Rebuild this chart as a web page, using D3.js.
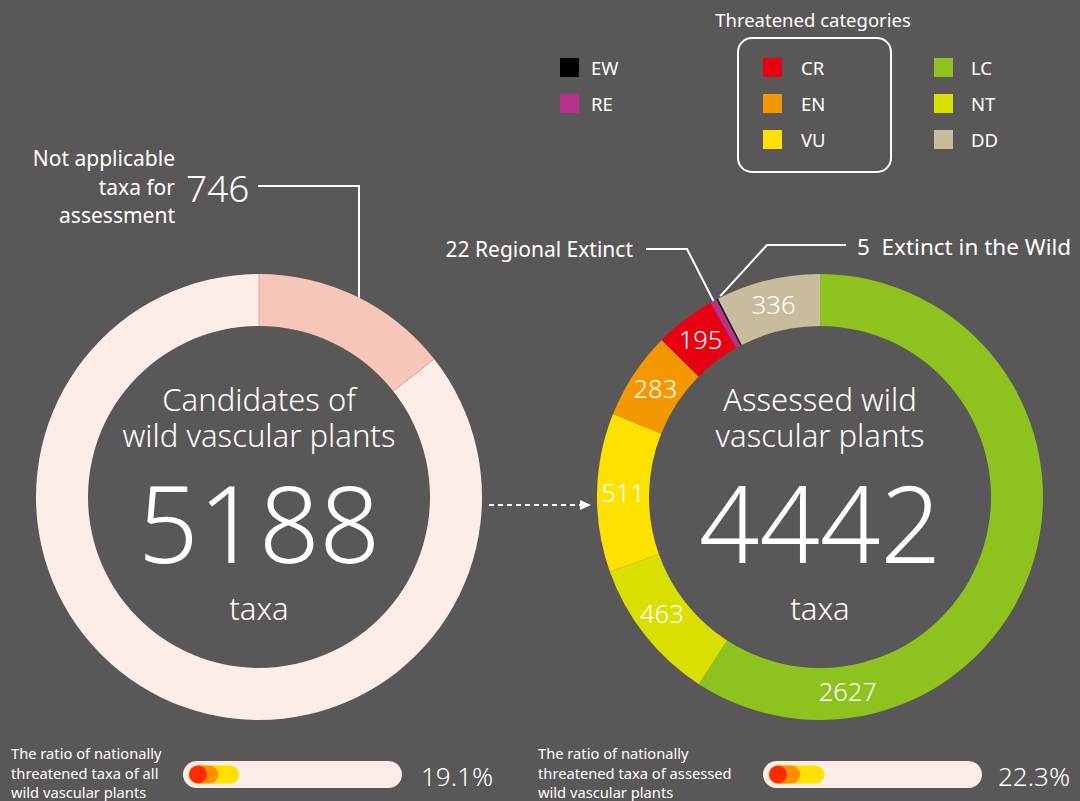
<!DOCTYPE html>
<html>
<head>
<meta charset="utf-8">
<script src="https://cdn.jsdelivr.net/npm/d3@7"></script>
<style>
  html, body { margin: 0; padding: 0; background: #595757; }
  svg text { font-family: "Noto Sans", "Open Sans", sans-serif; fill: #fff; }
</style>
</head>
<body>
<div id="chart"></div>
<script>
// ---- data ----
const candidateNames = ["Not applicable", "Assessed"];
const candidateValues = [746, 4442];
const candidateColors = ["#f8c6b9", "#fcede9"];

const assessedCodes = ["LC", "NT", "VU", "EN", "CR", "RE", "EW", "DD"];
const assessedValues = [2627, 463, 511, 283, 195, 22, 5, 336];
const assessedColors = ["#8dc21f", "#d9df00", "#ffe100", "#f39800", "#e60012", "#b5318a", "#000000", "#c9bc9c"];

const legendCols = [["EW", "RE"], ["CR", "EN", "VU"], ["LC", "NT", "DD"]];
const threatened = ["CR", "EN", "VU"];
const barColors = ["#ff2a00", "#ff9100", "#ffe100"];
const ratioLabels = [
  ["The ratio of nationally", "threatened taxa of all", "wild vascular plants"],
  ["The ratio of nationally", "threatened taxa of assessed", "wild vascular plants"]
];

const W = 1080, H = 801;
const colorOf = d3.scaleOrdinal().domain(assessedCodes).range(assessedColors);
const valueOf = c => assessedValues[assessedCodes.indexOf(c)];

const svg = d3.select("#chart").append("svg")
  .attr("width", W).attr("height", H)
  .style("display", "block");

svg.append("rect").attr("width", W).attr("height", H).attr("fill", "#595757");

const outerR = 223, innerR = 171;
const cy = 497;
const pie = d3.pie().sort(null).value(d => d.value);
const arc = d3.arc().innerRadius(innerR).outerRadius(outerR);

// ---- left donut ----
const leftG = svg.append("g").attr("transform", `translate(259,${cy})`);
const leftData = pie(candidateNames.map((n, i) => ({ name: n, value: candidateValues[i], color: candidateColors[i] })));
leftG.selectAll("path").data(leftData).enter().append("path")
  .attr("d", arc)
  .attr("fill", d => d.data.color);
// thin seams between the segments
leftG.selectAll("line.seam").data(leftData).enter().append("line")
  .attr("class", "seam")
  .attr("x1", d => innerR * Math.sin(d.startAngle)).attr("y1", d => -innerR * Math.cos(d.startAngle))
  .attr("x2", d => outerR * Math.sin(d.startAngle)).attr("y2", d => -outerR * Math.cos(d.startAngle))
  .attr("stroke", "#dba89b").attr("stroke-width", 1);

function centerText(g, lines, num) {
  lines.forEach((t, i) => {
    g.append("text").attr("text-anchor", "middle").attr("y", -86 + i * 36)
      .style("font-size", "31px").style("font-weight", 300).text(t);
  });
  g.append("text").attr("text-anchor", "middle").attr("y", 66)
    .style("font-size", "106px").style("font-weight", 300).text(num);
  g.append("text").attr("text-anchor", "middle").attr("y", 123)
    .style("font-size", "31px").style("font-weight", 300).text("taxa");
}
centerText(leftG, ["Candidates of", "wild vascular plants"], d3.sum(candidateValues));

// callout 746
const naArc = leftData[0];
const lx = 100; // offset from centre for vertical leader
const ly = -Math.sqrt(outerR * outerR - lx * lx);
leftG.append("path")
  .attr("d", `M${-1},${186 - cy}H${lx}V${ly}`)
  .attr("fill", "none").attr("stroke", "#fff").attr("stroke-width", 2);
const naText = svg.append("g");
["Not applicable", "taxa for", "assessment"].forEach((t, i) => {
  naText.append("text").attr("x", 175).attr("y", 166 + i * 28.5)
    .attr("text-anchor", "end").style("font-size", "21px").text(t);
});
naText.append("text").attr("x", 186).attr("y", 202)
  .style("font-size", "37px").style("font-weight", 300).text(naArc.data.value);

// ---- right donut ----
const rightG = svg.append("g").attr("transform", `translate(820,${cy})`);
const rightData = pie(assessedCodes.map((c, i) => ({ code: c, value: assessedValues[i] })));
rightG.selectAll("path").data(rightData).enter().append("path")
  .attr("d", arc)
  .attr("fill", d => colorOf(d.data.code));

const labelR = (innerR + outerR) / 2;
rightG.selectAll("text.val").data(rightData.filter(d => d.value > 100)).enter().append("text")
  .attr("class", "val")
  .attr("text-anchor", "middle")
  .attr("dy", "0.35em")
  .attr("transform", d => {
    let a = (d.startAngle + d.endAngle) / 2;
    if (d.data.code === "LC") a = Math.PI * 0.955; // sit near bottom
    if (d.data.code === "NT") a += 0.03;
    return `translate(${labelR * Math.sin(a)},${-labelR * Math.cos(a)})`;
  })
  .style("font-size", "25.5px").style("font-weight", 300)
  .text(d => d.value);

centerText(rightG, ["Assessed wild", "vascular plants"], d3.sum(assessedValues));

// callouts RE and EW
function outerPoint(code) {
  const d = rightData.find(e => e.data.code === code);
  const a = (d.startAngle + d.endAngle) / 2;
  return [outerR * Math.sin(a), -outerR * Math.cos(a)];
}
const pRE = outerPoint("RE"), pEW = outerPoint("EW");
rightG.append("path")
  .attr("d", `M${pRE[0]},${pRE[1]}L${687 - 820},${249 - cy}H${646 - 820}`)
  .attr("fill", "none").attr("stroke", "#fff").attr("stroke-width", 2);
rightG.append("path")
  .attr("d", `M${pEW[0] + 3},${pEW[1] - 3}L${767 - 820},${245 - cy}H${846 - 820}`)
  .attr("fill", "none").attr("stroke", "#fff").attr("stroke-width", 2);
svg.append("text").attr("x", 633).attr("y", 257).attr("text-anchor", "end")
  .style("font-size", "21px").text(`${valueOf("RE")} Regional Extinct`);
svg.append("text").attr("x", 857).attr("y", 255)
  .style("font-size", "22.5px").attr("xml:space", "preserve").text(`${valueOf("EW")}  Extinct in the Wild`);

// ---- arrow ----
svg.append("line").attr("x1", 489).attr("x2", 581).attr("y1", 505).attr("y2", 505)
  .attr("stroke", "#fff").attr("stroke-width", 2).attr("stroke-dasharray", "5,4");
svg.append("path").attr("d", "M580,500L591,505L580,510Z").attr("fill", "#fff");

// ---- legend ----
svg.append("text").attr("x", 813).attr("y", 27).attr("text-anchor", "middle")
  .style("font-size", "18.5px").text("Threatened categories");
svg.append("rect").attr("x", 738).attr("y", 38).attr("width", 153).attr("height", 134)
  .attr("rx", 14).attr("fill", "none").attr("stroke", "#fff").attr("stroke-width", 2);
const colX = [560, 763, 934];
const labX = [591, 801, 971];
legendCols.forEach((col, ci) => {
  col.forEach((code, ri) => {
    const y = 58 + ri * 36;
    svg.append("rect").attr("x", colX[ci]).attr("y", y).attr("width", 19).attr("height", 19)
      .attr("fill", colorOf(code));
    svg.append("text").attr("x", labX[ci]).attr("y", y + 17)
      .style("font-size", "18.5px").text(code);
  });
});

// ---- ratio bars ----
const threatSum = d3.sum(threatened.map(valueOf));
const totals = [d3.sum(candidateValues), d3.sum(assessedValues)];
const barX = [183, 763];
const textX = [11, 538];
const pctX = [421, 998];
const barW = 219, barH = 27, barY = 761;
const innerH = 18;
const lenScale = d3.scaleLinear().domain([0, 1]).range([0, 210]);
totals.forEach((tot, i) => {
  const g = svg.append("g");
  ratioLabels[i].forEach((t, j) => {
    g.append("text").attr("x", textX[i]).attr("y", 759 + j * 19.5)
      .style("font-size", "14.7px").text(t);
  });
  g.append("rect").attr("x", barX[i]).attr("y", barY).attr("width", barW).attr("height", barH)
    .attr("rx", barH / 2).attr("fill", "#fcede9");
  const x0 = barX[i] + 6 + innerH / 2;
  const crShare = valueOf("CR") / tot;
  let cum = 0;
  const ends = threatened.map((c, k) => { cum += valueOf(c); return { code: c, v: cum / tot, color: barColors[k] }; });
  ends.slice().reverse().forEach(e => {
    g.append("line")
      .attr("x1", x0).attr("x2", x0 + lenScale(e.v - crShare))
      .attr("y1", barY + barH / 2).attr("y2", barY + barH / 2)
      .attr("stroke", e.color)
      .attr("stroke-width", innerH).attr("stroke-linecap", "round");
  });
  g.append("text").attr("x", pctX[i]).attr("y", 786)
    .style("font-size", "26px").style("font-weight", 300)
    .text(d3.format(".1f")(threatSum / tot * 100) + "%");
});
</script>
</body>
</html>
